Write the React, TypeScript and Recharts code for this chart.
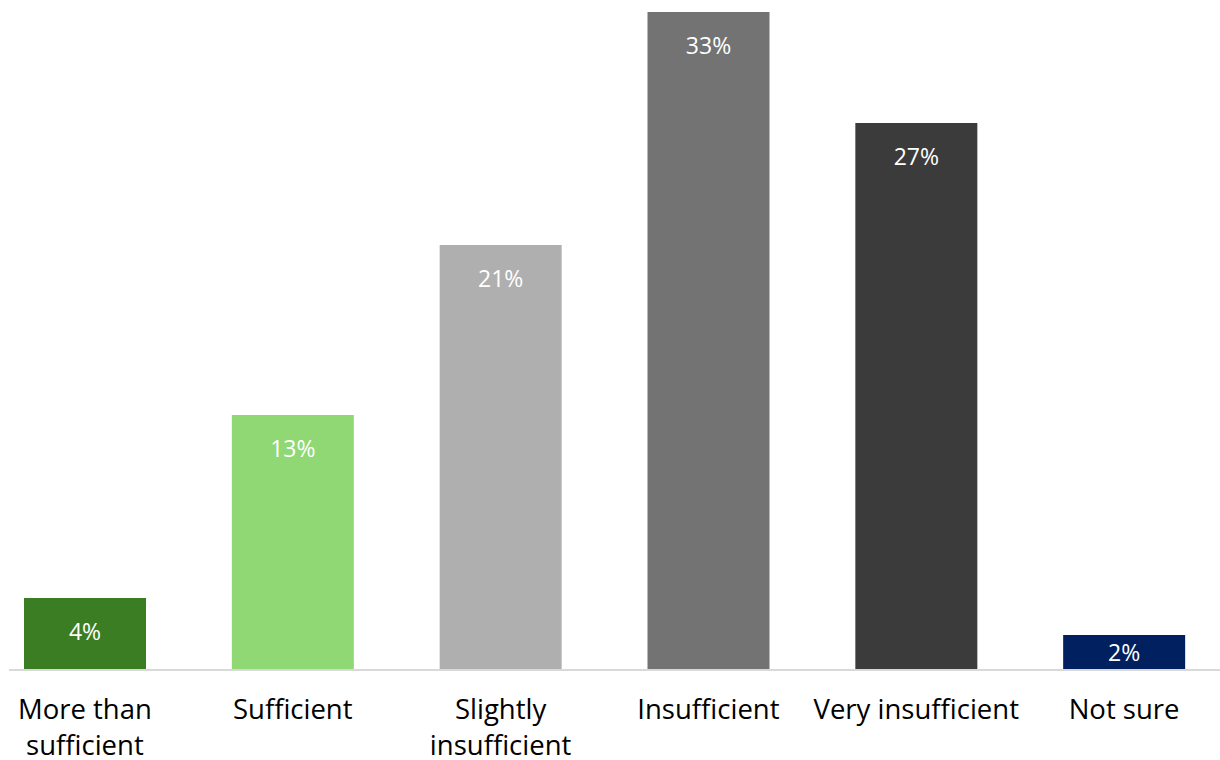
import React from "react";
import { BarChart, Bar, XAxis, YAxis, Cell, LabelList } from "recharts";

const categories = ["More than sufficient", "Sufficient", "Slightly insufficient", "Insufficient", "Very insufficient", "Not sure"];
const tickLines = [["More than", "sufficient"], ["Sufficient"], ["Slightly", "insufficient"], ["Insufficient"], ["Very insufficient"], ["Not sure"]];
const values = [3.57, 12.76, 21.3, 33.0, 27.42, 1.71];
const valueLabels = ["4%", "13%", "21%", "33%", "27%", "2%"];
const colors = ["#3b7d23", "#8fd874", "#afafaf", "#737373", "#3b3b3b", "#002060"];

const data = categories.map((c, i) => ({ name: c, value: values[i], label: valueLabels[i], idx: i }));

const FONT = "'Open Sans', sans-serif";

const Tick = (props: any) => {
  const { x, y, payload } = props;
  const lines = tickLines[payload.index] || [payload.value];
  return (
    <g>
      {lines.map((l: string, i: number) => (
        <text key={i} x={x} y={y + 42 + i * 36} textAnchor="middle" fill="#000" fontSize={27.5} fontFamily={FONT}>
          {l}
        </text>
      ))}
    </g>
  );
};

const ValueLabel = (props: any) => {
  const { x, y, width, height, index } = props;
  const cy = Math.min(y + 33, y + height / 2);
  return (
    <text x={x + width / 2} y={cy} textAnchor="middle" dominantBaseline="central" fill="#fff" fontSize={23} fontFamily={FONT}>
      {valueLabels[index]}
    </text>
  );
};

export default function App() {
  return (
    <div style={{ position: "absolute", left: 0, top: 0, width: 1220, height: 760, background: "#fff", overflow: "hidden" }}>
      <div style={{ position: "absolute", left: 9, top: 669, width: 1211, height: 2, background: "#d9d9d9" }} />
      <div style={{ position: "absolute", left: -19, top: 0 }}>
        <BarChart width={1247} height={760} data={data} margin={{ top: 12, right: 0, bottom: 0, left: 0 }} barSize={122}>
          <XAxis dataKey="name" axisLine={false} tickLine={false} height={91} interval={0} tick={<Tick />} />
          <YAxis hide domain={[0, 33]} />
          <Bar dataKey="value" isAnimationActive={false}>
            {data.map((d, i) => (
              <Cell key={i} fill={colors[i]} />
            ))}
            <LabelList dataKey="label" content={<ValueLabel />} />
          </Bar>
        </BarChart>
      </div>
    </div>
  );
}
